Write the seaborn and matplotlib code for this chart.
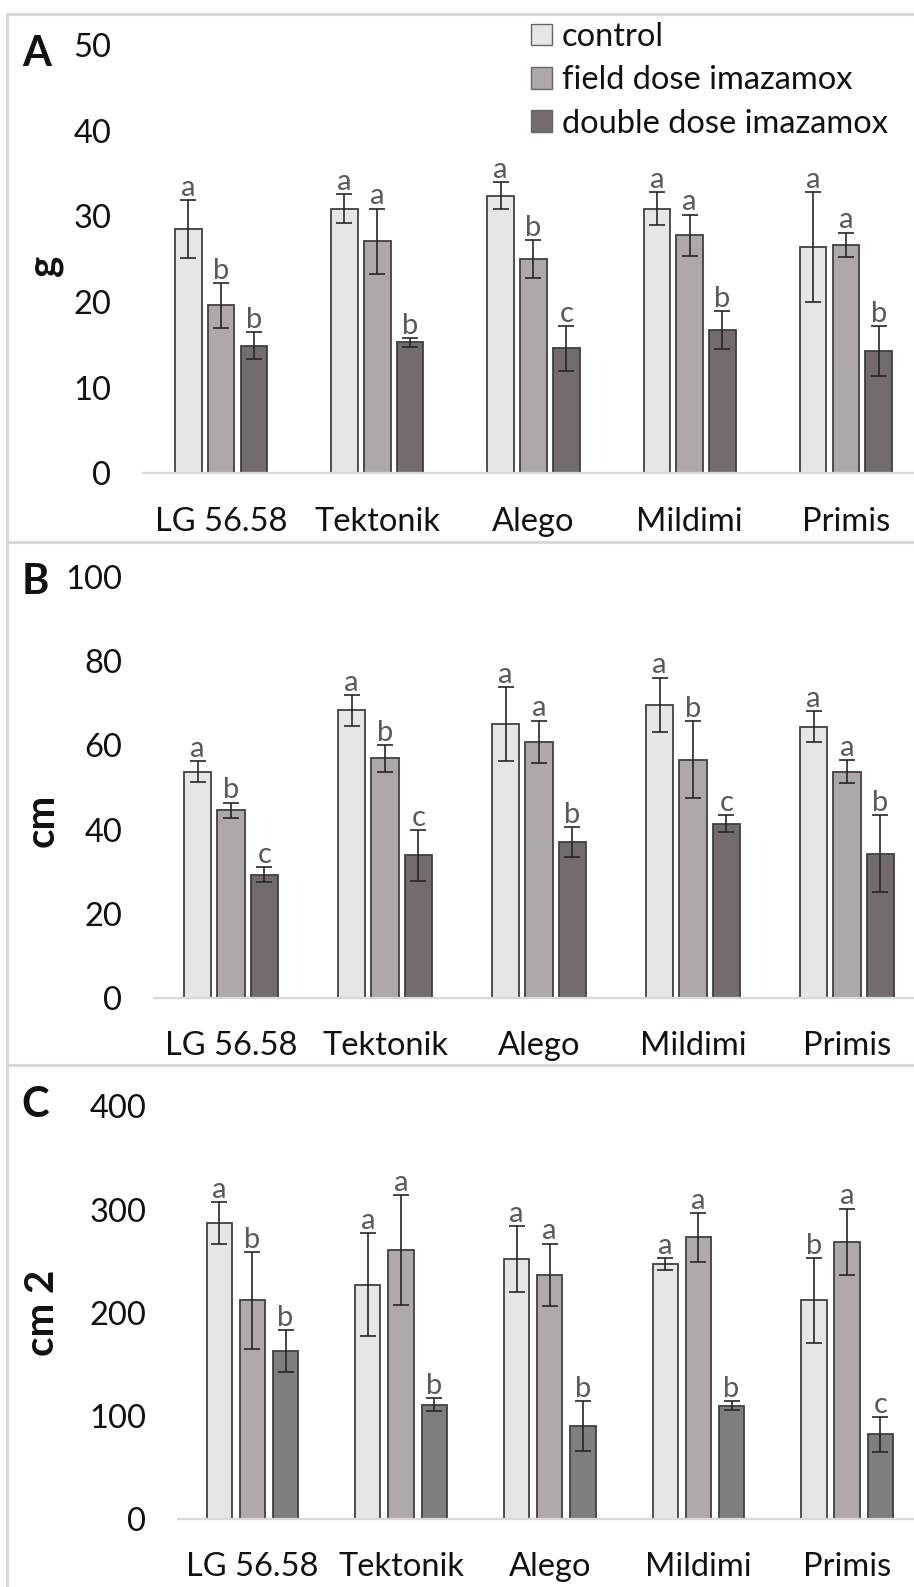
import numpy as np
import pandas as pd
import matplotlib
matplotlib.use("Agg")
import matplotlib.pyplot as plt
import seaborn as sns
from matplotlib.lines import Line2D
from matplotlib.patches import Patch

# cultivars and treatments
cultivars = ["LG 56.58", "Tektonik", "Alego", "Mildimi", "Primis"]
treatments = ["control", "field dose imazamox", "double dose imazamox"]

# A - dry mass (g)
a_control = [28.5, 30.9, 32.4, 30.9, 26.4]
a_field = [19.6, 27.1, 25.0, 27.8, 26.7]
a_double = [14.9, 15.3, 14.6, 16.7, 14.3]
a_control_err = [3.4, 1.7, 1.6, 1.9, 6.4]
a_field_err = [2.6, 3.8, 2.2, 2.4, 1.4]
a_double_err = [1.6, 0.5, 2.6, 2.2, 2.9]
a_control_let = ["a", "a", "a", "a", "a"]
a_field_let = ["b", "a", "b", "a", "a"]
a_double_let = ["b", "b", "c", "b", "b"]

# B - height (cm)
b_control = [53.8, 68.3, 65.1, 69.7, 64.4]
b_field = [44.6, 56.9, 60.9, 56.6, 53.8]
b_double = [29.3, 33.9, 37.1, 41.4, 34.3]
b_control_err = [2.4, 3.6, 8.8, 6.4, 3.7]
b_field_err = [1.8, 3.2, 5.0, 9.2, 2.8]
b_double_err = [1.8, 6.0, 3.5, 2.0, 9.2]
b_control_let = ["a", "a", "a", "a", "a"]
b_field_let = ["b", "b", "a", "b", "a"]
b_double_let = ["c", "c", "b", "c", "b"]

# C - leaf area (cm 2)
c_control = [287, 227, 252, 247, 212]
c_field = [212, 261, 237, 273, 269]
c_double = [163, 111, 90, 110, 82]
c_control_err = [20, 50, 32, 6, 41]
c_field_err = [47, 53, 30, 24, 32]
c_double_err = [20, 6, 24, 4, 17]
c_control_let = ["a", "a", "a", "a", "b"]
c_field_let = ["b", "a", "a", "a", "a"]
c_double_let = ["b", "b", "b", "b", "c"]

colors_ab = ["#e6e6e6", "#aea8a8", "#746b6d"]
colors_c = ["#e6e6e6", "#b0a9a9", "#7e7e7e"]

FONT = 23.5


def make_df(means, errs, lets):
    rows = []
    for t, m, e, l in zip(treatments, means, errs, lets):
        for c, mv, ev, lv in zip(cultivars, m, e, l):
            rows.append({"cultivar": c, "treatment": t, "value": mv, "err": ev, "letter": lv})
    return pd.DataFrame(rows)


def draw_panel(ax, df, palette, ylim, yticks, width, gap, xmax):
    sns.barplot(data=df, x="cultivar", y="value", hue="treatment", order=cultivars,
                hue_order=treatments, palette=palette, width=width, gap=gap,
                errorbar=None, edgecolor="#404040", linewidth=1.3, saturation=1,
                legend=False, ax=ax)
    bar_conts = list(ax.containers)
    for i, cont in enumerate(bar_conts):
        sub = df[df.treatment == treatments[i]].set_index("cultivar")
        for bar in cont:
            xc = bar.get_x() + bar.get_width() / 2
            row = sub.loc[cultivars[int(round(xc))]]
            ax.errorbar(xc, row.value, yerr=row.err, fmt="none", ecolor="#262626",
                        elinewidth=1.2, capsize=6, capthick=1.2, zorder=5)
            ax.annotate(row.letter, (xc, row.value + row.err), xytext=(0, 3),
                        textcoords="offset points", ha="center", va="baseline",
                        fontsize=21, color="#595959")
    ax.set_xlim(-0.5, xmax)
    ax.set_ylim(*ylim)
    ax.set_yticks(yticks)
    ax.set_xlabel("")
    ax.set_ylabel("")
    for s in ["top", "right", "left"]:
        ax.spines[s].set_visible(False)
    ax.spines["bottom"].set_color("#d9d9d9")
    ax.spines["bottom"].set_linewidth(1.6)
    ax.tick_params(axis="y", length=0, pad=23, labelsize=FONT, labelcolor="#111111")
    ax.tick_params(axis="x", length=0, pad=24, labelsize=FONT, labelcolor="#111111")


sns.set_theme(style="white")
plt.rcParams["font.family"] = ["Lato", "DejaVu Sans"]

W, H = 914, 1587
fig = plt.figure(figsize=(W / 100, H / 100), dpi=100)


def px_axes(left, right, top, bottom):
    return fig.add_axes([left / W, 1 - bottom / H, (right - left) / W, (bottom - top) / H])


ax_a = px_axes(143, 914, 44.8, 473.5)
ax_b = px_axes(154, 914, 577, 998)
ax_c = px_axes(178, 914, 1106.5, 1519)

df_a = make_df([a_control, a_field, a_double], [a_control_err, a_field_err, a_double_err],
               [a_control_let, a_field_let, a_double_let])
df_b = make_df([b_control, b_field, b_double], [b_control_err, b_field_err, b_double_err],
               [b_control_let, b_field_let, b_double_let])
df_c = make_df([c_control, c_field, c_double], [c_control_err, c_field_err, c_double_err],
               [c_control_let, c_field_let, c_double_let])

draw_panel(ax_a, df_a, colors_ab, (0, 50), [0, 10, 20, 30, 40, 50], 0.63, 0.19, 4.436)
draw_panel(ax_b, df_b, colors_ab, (0, 100), [0, 20, 40, 60, 80, 100], 0.65, 0.18, 4.435)
draw_panel(ax_c, df_c, colors_c, (0, 400), [0, 100, 200, 300, 400], 0.67, 0.24, 4.45)

# y labels and panel letters
for x, y, txt in [(44, 265, "g"), (42, 820, "cm"), (42, 1313, "cm 2")]:
    fig.text(x / W, 1 - y / H, txt, rotation=90, ha="center", va="center",
             fontsize=29, fontweight="bold", color="#111111")
for x, y, txt in [(37, 54, "A"), (35, 582, "B"), (35, 1105, "C")]:
    fig.text(x / W, 1 - y / H, txt, ha="center", va="center",
             fontsize=30, fontweight="bold", color="#111111")

# legend
handles = [Patch(facecolor=c, edgecolor="#666666", linewidth=1) for c in colors_ab]
fig.legend(handles, treatments, loc="upper left", bbox_to_anchor=(531 / W, 1 - 22 / H),
           frameon=False, fontsize=FONT, handlelength=0.65, handleheight=0.65,
           handletextpad=0.3, labelspacing=0.41, borderpad=0, borderaxespad=0,
           labelcolor="#111111")

# panel frames
frame_kw = dict(transform=fig.transFigure, color="#d9d9d9", linewidth=2.2)
fig.add_artist(Line2D([7 / W, 1], [1 - 14 / H, 1 - 14 / H], **frame_kw))
fig.add_artist(Line2D([7 / W, 7 / W], [1 - 14 / H, 0], **frame_kw))
fig.add_artist(Line2D([7 / W, 1], [1 - 542 / H, 1 - 542 / H], **frame_kw))
fig.add_artist(Line2D([7 / W, 1], [1 - 1065 / H, 1 - 1065 / H], **frame_kw))

fig.savefig("out.png", dpi=100)
